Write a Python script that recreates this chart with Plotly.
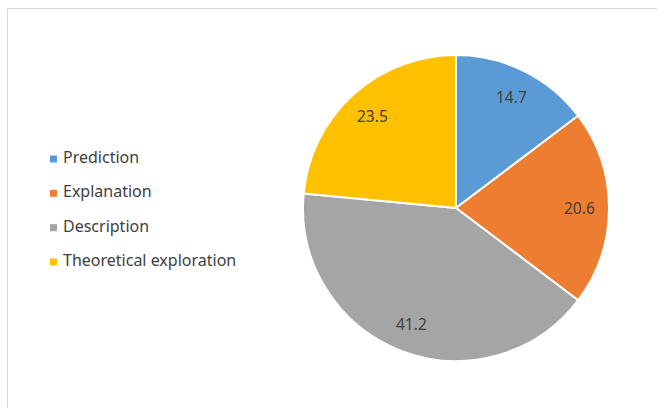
import math
import plotly.graph_objects as go

categories = ["Prediction", "Explanation", "Description", "Theoretical exploration"]
values = [14.7, 20.6, 41.2, 23.5]
colors = ["#5B9BD5", "#ED7D31", "#A5A5A5", "#FFC000"]

W, H = 657, 408
FONT = "Noto Sans"
TXT = "#404040"

fig = go.Figure()

# pie geometry
cx, cy, r = 456, 208, 153
dom = dict(x=[(cx - r) / W, (cx + r) / W], y=[1 - (cy + r) / H, 1 - (cy - r) / H])

fig.add_trace(go.Pie(
    labels=categories, values=values, sort=False, direction="clockwise", rotation=0,
    marker=dict(colors=colors, line=dict(color="white", width=2)),
    textinfo="none",
    domain=dom, showlegend=False, hoverinfo="label+value",
))

# data labels: annotations on a hidden axis pair covering the pie (unit circle coords)
total = sum(values)
annotations = []
acc = 0.0
for v in values:
    ang = math.radians((acc + v / 2) / total * 360)
    acc += v
    annotations.append(dict(
        x=0.81 * math.sin(ang), y=0.81 * math.cos(ang), xref="x2", yref="y2",
        text=f"{v:g}", showarrow=False,
        font=dict(family=FONT, size=15.5, color=TXT),
    ))

# legend drawn as scatter markers + text
step = 34.33
top = 159
ys = list(range(len(categories)))
fig.add_trace(go.Scatter(
    x=[53.5] * len(categories), y=ys, mode="markers",
    marker=dict(symbol="square", size=7, color=colors),
    showlegend=False, hoverinfo="skip",
))
fig.add_trace(go.Scatter(
    x=[63] * len(categories), y=ys, mode="text", text=categories,
    textposition="middle right",
    textfont=dict(family=FONT, size=16, color=TXT),
    showlegend=False, hoverinfo="skip",
))

fig.update_layout(
    width=W, height=H, margin=dict(l=0, r=0, t=0, b=0),
    paper_bgcolor="white", plot_bgcolor="rgba(0,0,0,0)",
    xaxis=dict(range=[0, W], visible=False, domain=[0, 1], fixedrange=True),
    yaxis=dict(range=[(H - top) / step, -top / step], visible=False, domain=[0, 1], fixedrange=True),
    xaxis2=dict(range=[-1, 1], domain=dom["x"], visible=False, fixedrange=True, anchor="y2"),
    yaxis2=dict(range=[-1, 1], domain=dom["y"], visible=False, fixedrange=True, anchor="x2"),
    annotations=annotations,
    shapes=[dict(type="rect", xref="paper", yref="paper",
                 x0=7.5 / W, x1=1.02, y0=-0.02, y1=1 - 8.5 / H,
                 line=dict(color="#D9D9D9", width=1), fillcolor="rgba(0,0,0,0)", layer="below")],
)

fig.write_html("out.html", config={"displayModeBar": False},
               post_script="document.body.style.margin='0px';")
